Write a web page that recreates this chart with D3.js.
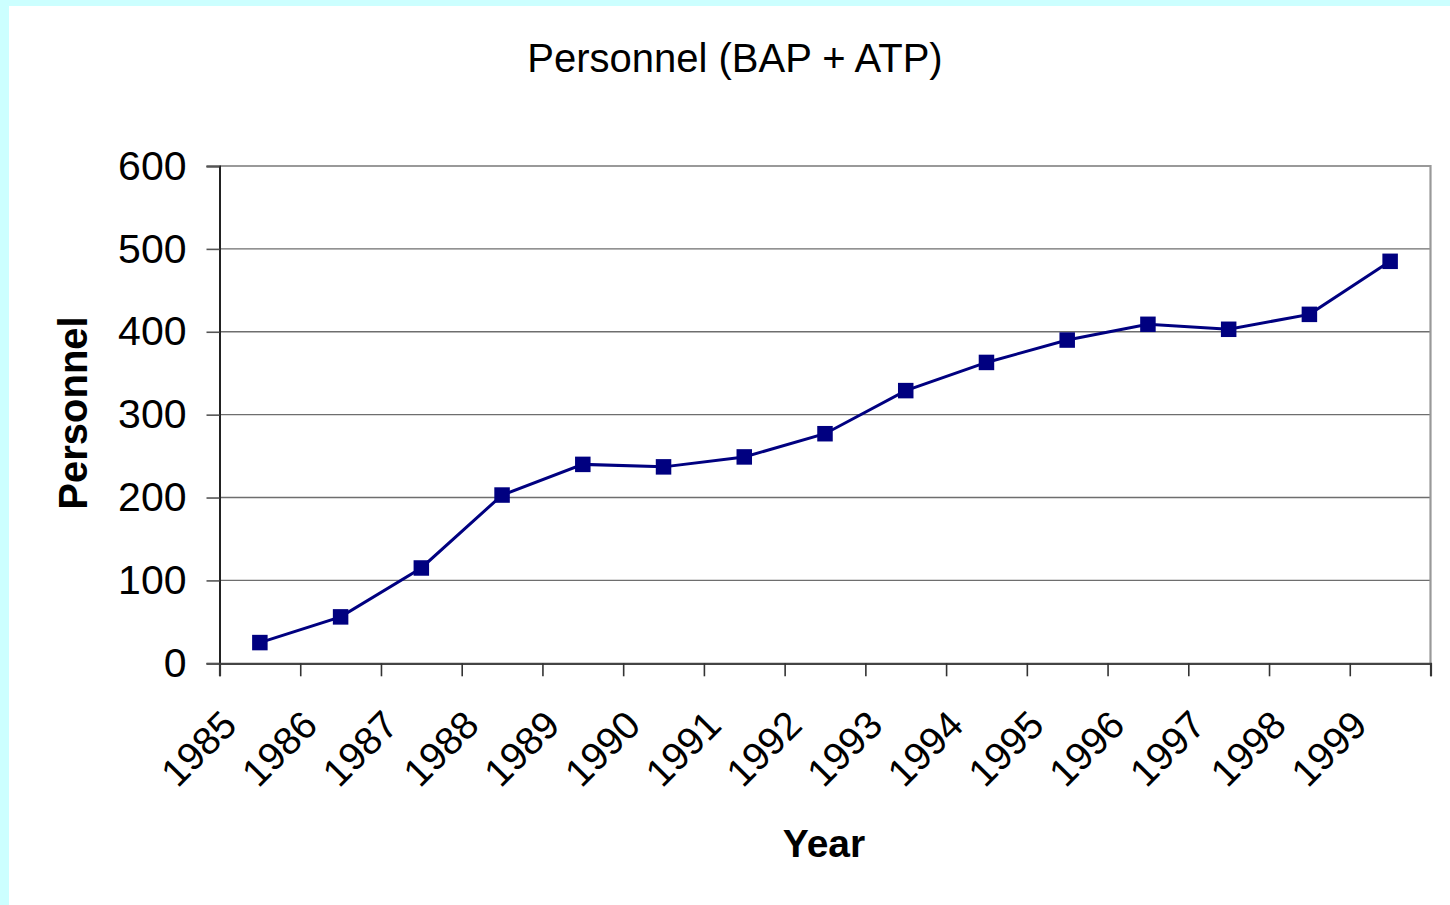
<!DOCTYPE html>
<html>
<head>
<meta charset="utf-8">
<script src="https://cdn.jsdelivr.net/npm/d3@7"></script>
<style>
  html, body { margin: 0; padding: 0; background: #ffffff; }
  svg { display: block; font-family: "Liberation Sans", Arial, sans-serif; }
</style>
</head>
<body>
<svg id="chart" width="1450" height="905"></svg>
<script>
// Staff headcount per year (BAP + ATP)
const years = ["1985", "1986", "1987", "1988", "1989", "1990", "1991", "1992",
               "1993", "1994", "1995", "1996", "1997", "1998", "1999"];
const personnel = [25, 56, 115, 203, 240, 237, 249, 277, 329, 363, 390, 409, 403, 421, 485];
const yTicks = [0, 100, 200, 300, 400, 500, 600];

const chartTitle = "Personnel (BAP + ATP)";
const xTitle = "Year";
const yTitle = "Personnel";

const W = 1450, H = 905;
const plot = { left: 219.5, right: 1430.5, top: 166, bottom: 663.3 };

const svg = d3.select("#chart");

// page frame: pale cyan strip on top and left edges
svg.append("rect").attr("width", W).attr("height", H).attr("fill", "#ccffff");
svg.append("rect").attr("x", 9).attr("y", 6).attr("width", W - 9).attr("height", H - 6).attr("fill", "#ffffff");

// scales: categories split into equal bands, markers at band centres
const xEdge = d3.scaleLinear().domain([0, years.length]).range([plot.left, plot.right]);
const x = d3.scaleBand().domain(years).range([plot.left, plot.right]).padding(0);
const y = d3.scaleLinear().domain([0, 600]).range([plot.bottom, plot.top]);

// horizontal gridlines
svg.append("g")
  .selectAll("line")
  .data(yTicks.filter(v => v > 0 && v < 600))
  .join("line")
  .attr("x1", plot.left).attr("x2", plot.right)
  .attr("y1", d => y(d)).attr("y2", d => y(d))
  .attr("stroke", "#6e6e6e").attr("stroke-width", 1.4);

// plot-area border (top and right)
svg.append("path")
  .attr("d", `M${plot.left},${y(600)}H${plot.right}V${plot.bottom}`)
  .attr("fill", "none").attr("stroke", "#999999").attr("stroke-width", 2.2);

// y axis
const yAxis = svg.append("g")
  .attr("transform", `translate(${plot.left},0)`)
  .call(d3.axisLeft(y).tickValues(yTicks).tickSize(13).tickPadding(20).tickFormat(d3.format("d")));
yAxis.select(".domain").attr("stroke", "#222222").attr("stroke-width", 2);
yAxis.selectAll(".tick line").attr("stroke", "#555555").attr("stroke-width", 1.6);
yAxis.selectAll(".tick text")
  .attr("font-size", 41).attr("fill", "#000000")
  .attr("font-family", "Liberation Sans, Arial, sans-serif");

// x axis: ticks on category boundaries
const xAxis = svg.append("g")
  .attr("transform", `translate(0,${plot.bottom})`)
  .call(d3.axisBottom(xEdge).tickValues(d3.range(years.length + 1)).tickSize(13).tickFormat(""));
xAxis.select(".domain").attr("stroke", "#444444").attr("stroke-width", 2.2);
xAxis.selectAll(".tick line").attr("stroke", "#333333").attr("stroke-width", 1.6);

// rotated year labels
svg.append("g")
  .selectAll("text")
  .data(years)
  .join("text")
  .attr("transform", d => `translate(${x(d) + x.bandwidth() / 2 - 21},${plot.bottom + 64}) rotate(-45)`)
  .attr("text-anchor", "end")
  .attr("font-size", 39)
  .attr("fill", "#000000")
  .text(d => d);

// data line
const line = d3.line()
  .x((d, i) => x(years[i]) + x.bandwidth() / 2)
  .y(d => y(d));
svg.append("path")
  .datum(personnel)
  .attr("d", line)
  .attr("fill", "none")
  .attr("stroke", "#000080")
  .attr("stroke-width", 3);

// square markers
const ms = 15.5;
svg.append("g")
  .selectAll("rect")
  .data(personnel)
  .join("rect")
  .attr("x", (d, i) => x(years[i]) + x.bandwidth() / 2 - ms / 2)
  .attr("y", d => y(d) - ms / 2)
  .attr("width", ms).attr("height", ms)
  .attr("fill", "#000080");

// titles
svg.append("text")
  .attr("x", 735).attr("y", 72)
  .attr("text-anchor", "middle")
  .attr("font-size", 40)
  .attr("fill", "#000000")
  .text(chartTitle);

svg.append("text")
  .attr("x", 824).attr("y", 857)
  .attr("text-anchor", "middle")
  .attr("font-size", 39)
  .attr("font-weight", "bold")
  .attr("fill", "#000000")
  .text(xTitle);

svg.append("text")
  .attr("transform", `translate(87,413) rotate(-90)`)
  .attr("text-anchor", "middle")
  .attr("font-size", 40)
  .attr("font-weight", "bold")
  .attr("fill", "#000000")
  .text(yTitle);
</script>
</body>
</html>
